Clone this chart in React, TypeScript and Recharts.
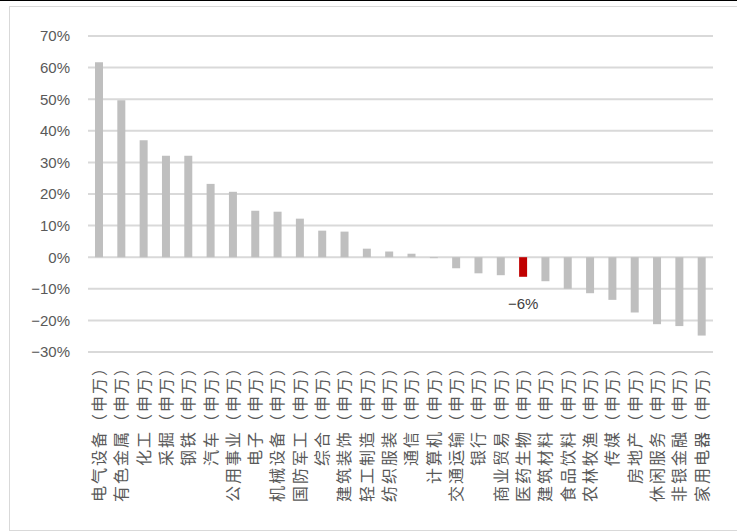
import React from 'react';
import { BarChart, Bar, XAxis, YAxis, CartesianGrid, Cell, LabelList } from 'recharts';

const categories = [
  '电气设备（申万）', '有色金属（申万）', '化工（申万）', '采掘（申万）', '钢铁（申万）',
  '汽车（申万）', '公用事业（申万）', '电子（申万）', '机械设备（申万）', '国防军工（申万）',
  '综合（申万）', '建筑装饰（申万）', '轻工制造（申万）', '纺织服装（申万）', '通信（申万）',
  '计算机（申万）', '交通运输（申万）', '银行（申万）', '商业贸易（申万）', '医药生物（申万）',
  '建筑材料（申万）', '食品饮料（申万）', '农林牧渔（申万）', '传媒（申万）', '房地产（申万）',
  '休闲服务（申万）', '非银金融（申万）', '家用电器（申万）',
];

const values = [
  61.7, 49.7, 37.0, 32.1, 32.1, 23.2, 20.7, 14.7, 14.4, 12.2,
  8.4, 8.1, 2.7, 1.8, 1.1, -0.3, -3.5, -5.1, -5.7, -6.2,
  -7.6, -10.0, -11.4, -13.5, -17.5, -21.2, -21.8, -24.8,
];

const highlightIndex = 19;
const highlightLabel = '−6%';
const yTicks = [-30, -20, -10, 0, 10, 20, 30, 40, 50, 60, 70];

const data = categories.map((name, i) => ({ name, value: values[i] }));

const fmtPct = (v: number) => (v < 0 ? `−${Math.abs(v)}%` : `${v}%`);

const XTick = (props: any) => {
  const { x, y, payload } = props;
  return (
    <text
      transform={`translate(${x},${y}) rotate(-90)`}
      textAnchor="end"
      dy="0.36em"
      fontSize={16}
      letterSpacing={2}
      fill="#595959"
      fontFamily="'Noto Sans CJK SC', sans-serif"
    >
      {payload.value}
    </text>
  );
};

const HighlightLabel = (props: any) => {
  const { x, y, width, height, index } = props;
  if (index !== highlightIndex) return null;
  const bottom = Math.max(y, y + height);
  return (
    <text
      x={x + width / 2}
      y={bottom + 27}
      textAnchor="middle"
      dominantBaseline="central"
      fontSize={15}
      fill="#404040"
      fontFamily="'Liberation Sans', Arial, sans-serif"
    >
      {highlightLabel}
    </text>
  );
};

export default function App() {
  return (
    <div style={{ position: 'absolute', left: 0, top: 0, width: 737, height: 531, background: '#fff', overflow: 'hidden' }}>
      <div style={{ position: 'absolute', left: 0, top: 0, width: 737, height: 1, background: '#000' }} />
      <div style={{ position: 'absolute', left: 9, top: 6, width: 740, height: 523, border: '1px solid #d9d9d9' }} />
      <div style={{ position: 'absolute', left: 0, top: 0 }}>
        <BarChart
          width={737}
          height={531}
          data={data}
          margin={{ top: 36, right: 24, bottom: 9, left: 0 }}
          barCategoryGap={0}
        >
          <CartesianGrid vertical={false} stroke="#d9d9d9" strokeWidth={2} />
          <XAxis
            dataKey="name"
            interval={0}
            height={170}
            axisLine={false}
            tickLine={false}
            tickMargin={0}
            tick={<XTick />}
          />
          <YAxis
            width={88}
            domain={[-30, 70]}
            ticks={yTicks}
            interval={0}
            axisLine={false}
            tickLine={false}
            tickMargin={12}
            tickFormatter={fmtPct}
            tick={{ fontSize: 15, fill: '#595959', fontFamily: "'Liberation Sans', Arial, sans-serif" }}
          />
          <Bar dataKey="value" barSize={8} isAnimationActive={false}>
            {data.map((d, i) => (
              <Cell key={d.name} fill={i === highlightIndex ? '#c00000' : '#bfbfbf'} />
            ))}
            <LabelList dataKey="value" content={<HighlightLabel />} />
          </Bar>
        </BarChart>
      </div>
    </div>
  );
}
